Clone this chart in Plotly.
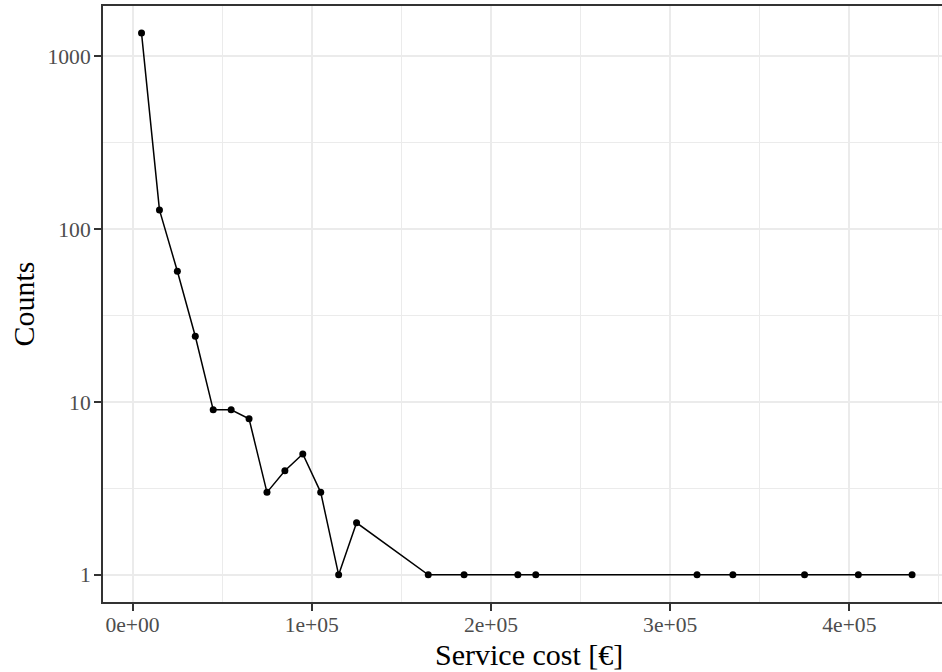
import plotly.graph_objects as go

# Data (bin centres of service cost, counts)
cost = [5000, 15000, 25000, 35000, 45000, 55000, 65000, 75000, 85000, 95000,
        105000, 115000, 125000, 165000, 185000, 215000, 225000, 315000,
        335000, 375000, 405000, 435000]
counts = [1360, 129, 57, 24, 9, 9, 8, 3, 4, 5,
          3, 1, 2, 1, 1, 1, 1, 1,
          1, 1, 1, 1]

x_tick_vals = [0, 100000, 200000, 300000, 400000]
x_tick_text = ["0e+00", "1e+05", "2e+05", "3e+05", "4e+05"]
x_minor_vals = [50000, 150000, 250000, 350000, 450000]
y_tick_vals = [1, 10, 100, 1000]
y_tick_text = ["1", "10", "100", "1000"]
y_minor_vals = [10 ** 0.5, 10 ** 1.5, 10 ** 2.5]

FONT = "Liberation Serif"
GRID = "#EBEBEB"
DARK = "#333333"

fig = go.Figure()
fig.add_trace(go.Scatter(
    x=cost, y=counts, mode="lines+markers",
    line=dict(color="black", width=1.5),
    marker=dict(color="black", size=7),
    showlegend=False, cliponaxis=False,
))

fig.update_layout(
    width=942, height=672,
    margin=dict(l=103, r=0, t=6, b=70, autoexpand=False),
    plot_bgcolor="white", paper_bgcolor="white",
    font=dict(family=FONT, color="#4D4D4D", size=21.6),
    xaxis=dict(
        automargin=False,
        range=[-16500, 451700],
        tickmode="array", tickvals=x_tick_vals, ticktext=x_tick_text,
        showgrid=True, gridcolor=GRID, gridwidth=2.2,
        minor=dict(tickmode="array", tickvals=x_minor_vals, showgrid=True,
                   gridcolor=GRID, gridwidth=1.2),
        zeroline=False,
        showline=True, linecolor=DARK, linewidth=2, mirror=True,
        ticks="outside", ticklen=7, tickwidth=2, tickcolor=DARK,
        ticklabelstandoff=-5,
        tickfont=dict(family=FONT, size=21.6, color="#4D4D4D"),
    ),
    yaxis=dict(
        automargin=False,
        type="log", range=[-0.157, 3.29],
        tickmode="array", tickvals=y_tick_vals, ticktext=y_tick_text,
        showgrid=True, gridcolor=GRID, gridwidth=2.2,
        minor=dict(tickmode="array", tickvals=y_minor_vals, showgrid=True,
                   gridcolor=GRID, gridwidth=1.2),
        zeroline=False,
        showline=True, linecolor=DARK, linewidth=2,
        ticks="outside", ticklen=7, tickwidth=2, tickcolor=DARK,
        ticklabelstandoff=-1,
        tickfont=dict(family=FONT, size=21.6, color="#4D4D4D"),
    ),
    annotations=[
        dict(text="Service cost [€]", xref="paper", yref="paper",
             x=(529 - 103) / (942 - 103), y=(602 - 654) / 596,
             xanchor="center", yanchor="middle", showarrow=False,
             font=dict(family=FONT, size=30, color="black")),
        dict(text="Counts", xref="paper", yref="paper",
             x=(22.5 - 103) / (942 - 103), y=0.5, textangle=-90,
             xanchor="center", yanchor="middle", showarrow=False,
             font=dict(family=FONT, size=30, color="black")),
    ],
)

fig.write_html("out.html",
               config={"displayModeBar": False},
               post_script="document.body.style.margin='0px';"
                           "document.body.style.padding='0px';")
